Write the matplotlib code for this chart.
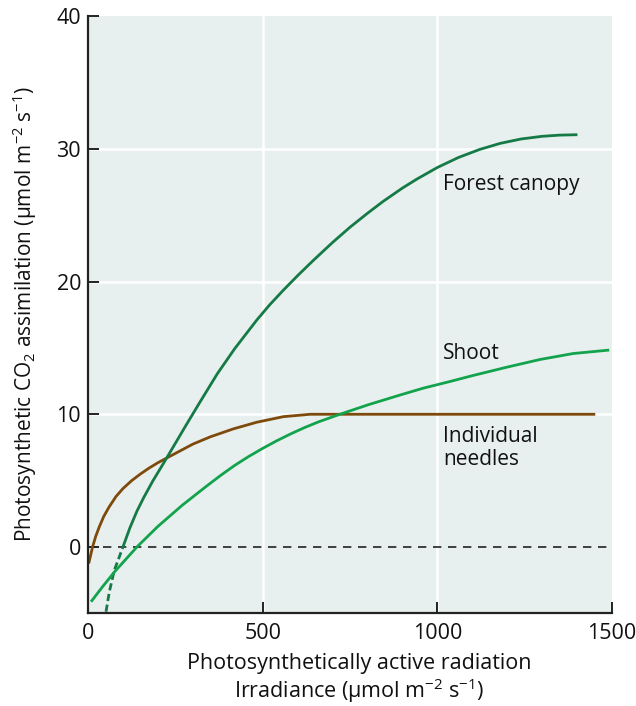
import matplotlib
matplotlib.use("Agg")
import matplotlib.pyplot as plt
import numpy as np

# ---- data ----
canopy_x = [51.5, 61, 75.4, 89.7, 100, 120, 140, 160, 185, 225, 280, 320, 370, 420, 483, 520,
            559, 600, 645, 700, 750, 800, 845, 900, 941, 1000, 1060, 1120, 1180, 1240, 1300, 1350, 1401]
canopy_y = [-4.88, -3.38, -1.74, -0.74, 0.0, 1.45, 2.7, 3.75, 4.95, 6.7, 9.15, 10.9, 13.05, 14.95, 17.1, 18.25,
            19.35, 20.45, 21.6, 22.95, 24.1, 25.15, 26.05, 27.05, 27.72, 28.6, 29.35, 29.95, 30.42, 30.75, 30.95,
            31.04, 31.07]

shoot_x = [8.6, 40, 75, 140, 200, 270, 340, 380, 420, 460, 500, 540, 580, 620, 660, 721, 800, 893,
           960, 1036, 1103, 1199, 1294, 1389, 1492]
shoot_y = [-4.13, -3.05, -1.9, 0.0, 1.55, 3.15, 4.6, 5.4, 6.15, 6.82, 7.43, 8.0, 8.52, 9.0, 9.43, 10.0, 10.7, 11.45,
           11.97, 12.47, 12.93, 13.55, 14.13, 14.58, 14.84]

needles_x = [2, 13, 22, 32, 45, 60, 80, 100, 125, 150, 175, 200, 225, 250, 300, 350, 416, 483, 559, 636,
             700, 1000, 1452]
needles_y = [-1.25, 0.0, 0.8, 1.5, 2.3, 3.0, 3.8, 4.4, 5.0, 5.5, 5.95, 6.35, 6.7, 7.05, 7.75, 8.3, 8.9, 9.4,
             9.82, 10.0, 10.0, 10.0, 10.0]

curve_labels = ["Forest canopy", "Shoot", "Individual\nneedles"]
x_ticks = [0, 500, 1000, 1500]
y_ticks = [0, 10, 20, 30, 40]

# ---- style ----
plt.rcParams['font.family'] = ['Open Sans', 'DejaVu Sans']
plt.rcParams['mathtext.fontset'] = 'custom'
plt.rcParams['mathtext.rm'] = 'Open Sans'
plt.rcParams['mathtext.it'] = 'Open Sans'
plt.rcParams['mathtext.default'] = 'regular'

c_canopy = '#157a46'
c_shoot = '#12a34c'
c_needles = '#7e4a0c'
bg = '#e7f0ee'
txt = '#111111'

W, H = 636, 706
fig = plt.figure(figsize=(W / 100, H / 100), dpi=100)
ax = fig.add_axes([0.1384, 0.1313, 0.9623 - 0.1384, 0.977 - 0.1313])
ax.set_facecolor(bg)

ax.set_xlim(0, 1500)
ax.set_ylim(-5, 40)

for v in [500, 1000]:
    ax.axvline(v, color='white', lw=1.8, zorder=0.5)
for v in [10, 20, 30]:
    ax.axhline(v, color='white', lw=1.8, zorder=0.5)

ax.axhline(0, color='#222222', lw=1.2, ls=(0, (5, 4)), zorder=1)

cx = np.array(canopy_x); cy = np.array(canopy_y)
ax.plot(cx[cy <= 0], cy[cy <= 0], color=c_canopy, lw=2.0, ls=(0, (2.6, 1.3)), zorder=3)
ax.plot(cx[cy >= 0], cy[cy >= 0], color=c_canopy, lw=2.0, zorder=3,
        solid_capstyle='butt', solid_joinstyle='round')
ax.plot(shoot_x, shoot_y, color=c_shoot, lw=2.0, zorder=3, solid_capstyle='butt',
        solid_joinstyle='round')
ax.plot(needles_x, needles_y, color=c_needles, lw=2.0, zorder=2, solid_capstyle='butt',
        solid_joinstyle='round')

lx = 1017
ax.text(lx, 27.35, curve_labels[0], fontsize=15, va='center', ha='left', color=txt)
ax.text(lx, 14.6, curve_labels[1], fontsize=15, va='center', ha='left', color=txt)
ax.text(lx, 7.45, curve_labels[2], fontsize=15, va='center', ha='left', color=txt,
        linespacing=1.15)

for s in ['top', 'right']:
    ax.spines[s].set_visible(False)
for s in ['left', 'bottom']:
    ax.spines[s].set_linewidth(1.6)
    ax.spines[s].set_color('#222222')

ax.set_xticks(x_ticks)
ax.set_yticks(y_ticks)
ax.tick_params(axis='both', direction='in', length=8, width=1.4, color='#222222',
               labelsize=15.5, labelcolor=txt)
ax.tick_params(axis='y', pad=5)
ax.tick_params(axis='x', pad=7)

# y label
fig.text(25 / W, 1 - 314 / H,
         r"Photosynthetic CO$_2$ assimilation (μmol m$^{-2}$ s$^{-1}$)",
         rotation=90, fontsize=15, color=txt, ha='center', va='center')
# x label (two lines)
fig.text(359 / W, 1 - 663 / H, "Photosynthetically active radiation",
         fontsize=15.5, color=txt, ha='center', va='center')
fig.text(359 / W, 1 - 691 / H, r"Irradiance (μmol m$^{-2}$ s$^{-1}$)",
         fontsize=15.5, color=txt, ha='center', va='center')

fig.savefig('out.png', dpi=100)
